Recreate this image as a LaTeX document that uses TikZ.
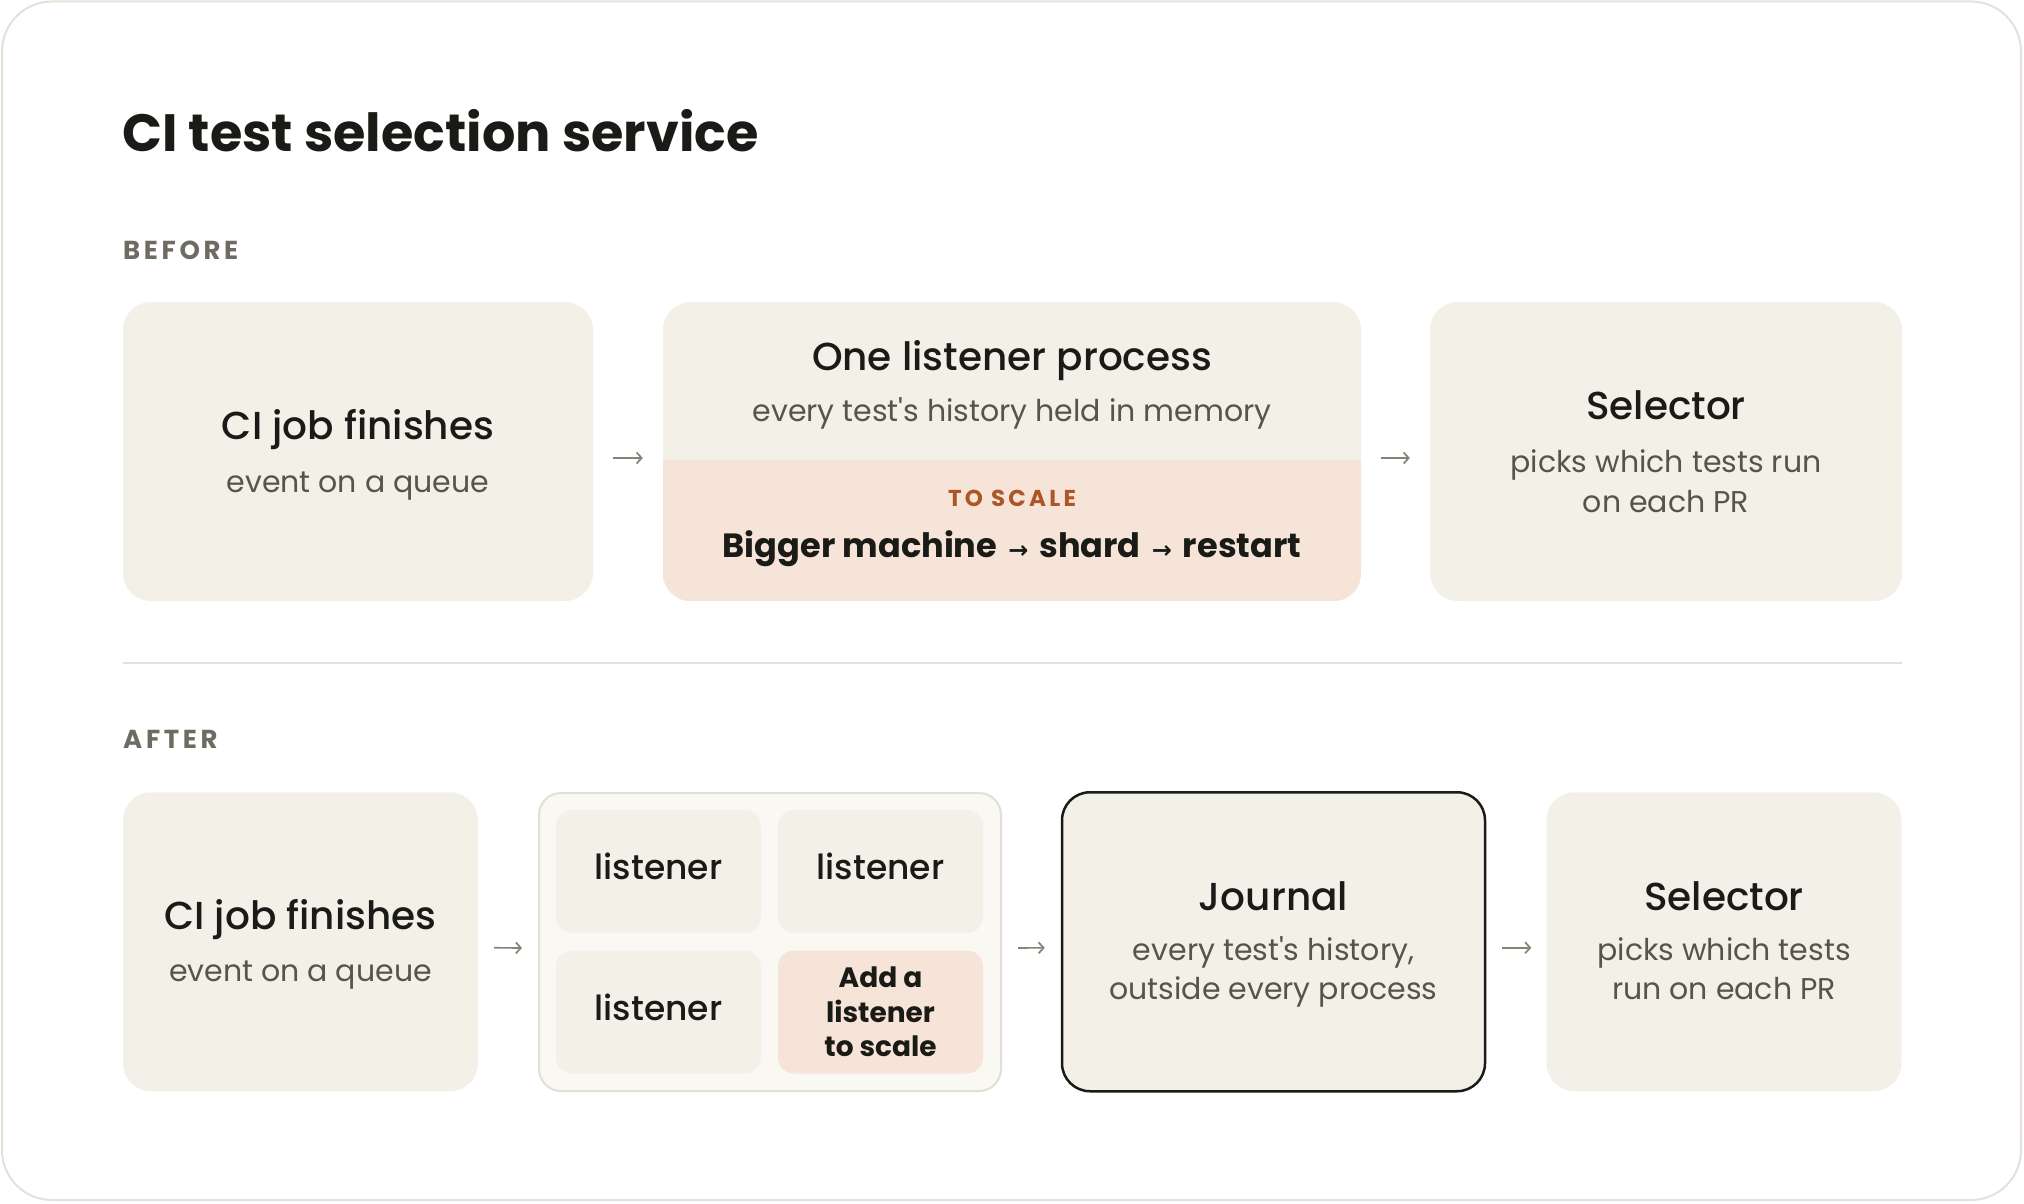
\documentclass[tikz,border=0pt]{standalone}
\usepackage{fontspec}
\setmainfont{Poppins}[Ligatures=TeXOff]
\IfFontExistsTF{Poppins Medium}{\newfontfamily\medfont{Poppins Medium}[Ligatures=TeXOff]}{\newfontfamily\medfont{Poppins}[Ligatures=TeXOff]}
\newfontfamily\spacedfont{Poppins}[LetterSpace=14]
\newfontfamily\symfont{DejaVu Sans}
\usetikzlibrary{arrows.meta}

\definecolor{ink}{HTML}{1A1A17}
\definecolor{subink}{HTML}{57544C}
\definecolor{boxbg}{HTML}{F3F0E8}
\definecolor{peach}{HTML}{F6E4D9}
\definecolor{poolbg}{HTML}{FAF8F3}
\definecolor{poolline}{HTML}{E2DFD4}
\definecolor{cardline}{HTML}{E4E2D8}
\definecolor{rust}{HTML}{AE5526}
\definecolor{labelgray}{HTML}{6E6B62}
\definecolor{arrowgray}{HTML}{858276}

\newcommand{\arr}{\hspace{11pt}{\symfont\fontsize{24}{24}\selectfont\raisebox{-1pt}{→}}\hspace{11pt}}

\tikzset{
  box/.style={rectangle, rounded corners=28, fill=boxbg, minimum height=299, inner sep=0},
  cell/.style={rectangle, rounded corners=16, fill=boxbg, minimum width=205, minimum height=123, inner sep=0, text depth=10pt, text=ink, font=\medfont\fontsize{34.5}{40}\selectfont},
  ttl/.style={anchor=base, inner sep=0, text=ink, font=\medfont\fontsize{39}{46}\selectfont},
  sub/.style={anchor=base, inner sep=0, text=subink, font=\fontsize{30}{40}\selectfont},
  section/.style={anchor=base west, inner sep=0, text=labelgray, font=\spacedfont\bfseries\fontsize{26}{30}\selectfont},
  flow/.style={-{Straight Barb[length=5pt, width=11pt]}, line width=1.7, draw=arrowgray, shorten <=20, shorten >=20}
}

\begin{document}
\begin{tikzpicture}[x=1pt, y=-1pt]
    \useasboundingbox (0,0) rectangle (2024,1204);
    \draw[line width=2, draw=cardline, fill=white, rounded corners=50] (2,1.5) rectangle (2021,1200);

    \node[anchor=base west, inner sep=0, text=ink, font=\bfseries\fontsize{52.5}{60}\selectfont] (title) at (122,152) {CI test selection service};
    \node[section] (before) at (123,259) {BEFORE};

    \node[box, minimum width=470] (b1) at (358,451.5) {};
    \node[box, minimum width=698] (b2) at (1012,451.5) {};
    \node[box, minimum width=472] (b3) at (1666,451.5) {};
    \coordinate (split) at (0,460);
    \begin{scope}
        \clip[rounded corners=28] (b2.south west) rectangle (b2.north east);
        \fill[peach] (b2.south west) rectangle (b2.east |- split);
    \end{scope}

    \node[ttl] (b1t) at (358,439) {CI job finishes};
    \node[sub] (b1s) at (358,492) {event on a queue};
    \node[ttl] (b2t) at (1012,370) {One listener process};
    \node[sub] (b2s) at (1012,421) {every test's history held in memory};
    \node[anchor=base, inner sep=0, text=rust, font=\spacedfont\bfseries\fontsize{23}{26}\selectfont] (b2h) at (1012,506) {TO SCALE};
    \node[anchor=base, inner sep=0, text=ink, font=\bfseries\fontsize{33.6}{40}\selectfont] (b2x) at (1012,557.5) {Bigger machine\arr shard\arr restart};
    \node[ttl] (b3t) at (1666,419) {Selector};
    \node[sub] (b3s) at (1666,472.5) {picks which tests run};
    \node[sub] (b3s2) at (1666,512) {on each PR};

    \draw[flow] ([yshift=-6.5]b1.east) -- ([yshift=-6.5]b2.west);
    \draw[flow] ([yshift=-6.5]b2.east) -- ([yshift=-6.5]b3.west);

    \draw[line width=2, draw=cardline] (123,663) -- (1902,663);
    \node[section] (after) at (123,748.5) {AFTER};

    \node[box, minimum width=355] (a1) at (300.5,941.75) {};
    \node[rectangle, rounded corners=22, fill=poolbg, draw=poolline, line width=2, minimum width=462, minimum height=298, inner sep=0] (pool) at (770,942) {};
    \node[cell] (l1) at (658.5,871.5) {listener};
    \node[cell] (l2) at (880.5,871.5) {listener};
    \node[cell] (l3) at (658.5,1012) {listener};
    \node[cell, fill=peach, align=center, text depth=0pt, font=\bfseries\fontsize{28}{34.5}\selectfont] (l4) at (880.5,1012) {Add a\\listener\\to scale};
    \node[box, minimum width=423, draw=ink, line width=2.5] (jr) at (1273.5,941.75) {};
    \node[box, minimum width=355] (a3) at (1724,941.75) {};

    \node[ttl] (a1t) at (300.5,929) {CI job finishes};
    \node[sub] (a1s) at (300.5,981.3) {event on a queue};
    \node[ttl] (jrt) at (1273.5,910.5) {Journal};
    \node[sub] (jrs) at (1273.5,960.8) {every test's history,};
    \node[sub] (jrs2) at (1273.5,999.9) {outside every process};
    \node[ttl] (a3t) at (1724,910.5) {Selector};
    \node[sub] (a3s) at (1724,960.8) {picks which tests};
    \node[sub] (a3s2) at (1724,999.9) {run on each PR};

    \draw[flow, shorten <=16, shorten >=16] ([yshift=-6]a1.east) -- ([yshift=-6]pool.west);
    \draw[flow, shorten <=16, shorten >=16] ([yshift=-6]pool.east) -- ([yshift=-6]jr.west);
    \draw[flow, shorten <=16, shorten >=15] ([yshift=-6]jr.east) -- ([yshift=-6]a3.west);
\end{tikzpicture}
\end{document}
